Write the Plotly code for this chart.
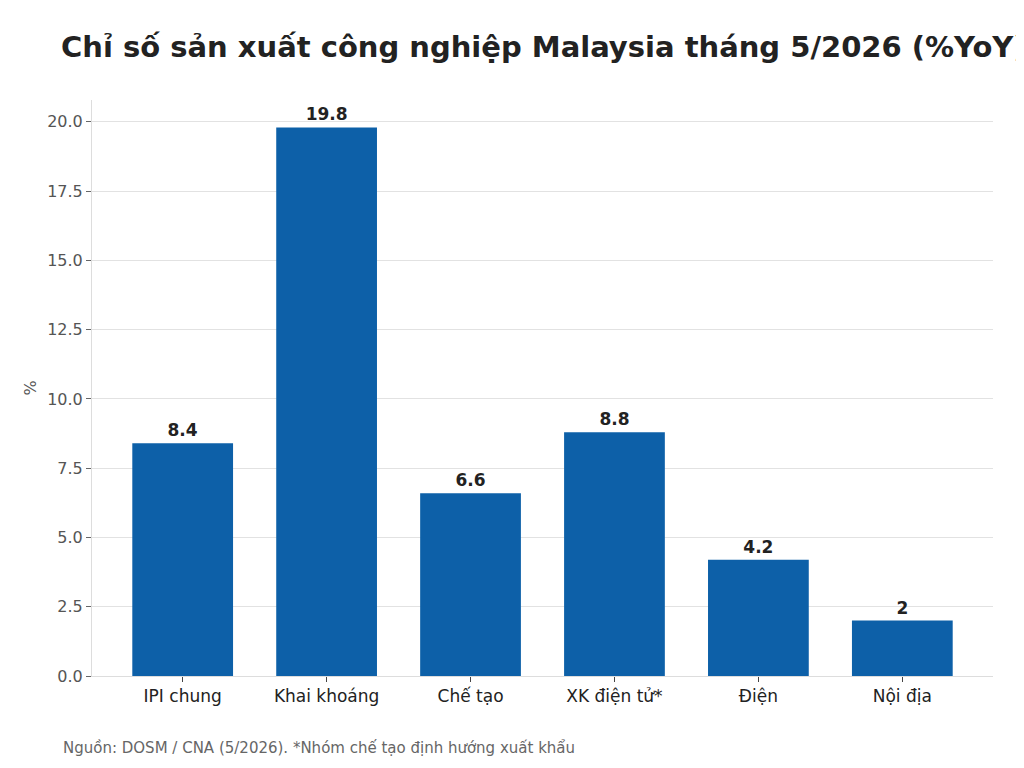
import plotly.graph_objects as go

categories = ["IPI chung", "Khai khoáng", "Chế tạo", "XK điện tử*", "Điện", "Nội địa"]
values = [8.4, 19.8, 6.6, 8.8, 4.2, 2]
value_labels = ["8.4", "19.8", "6.6", "8.8", "4.2", "2"]

TITLE = "Chỉ số sản xuất công nghiệp Malaysia tháng 5/2026 (%YoY)"
SOURCE = "Nguồn: DOSM / CNA (5/2026). *Nhóm chế tạo định hướng xuất khẩu"
FONT = "DejaVu Sans"

fig = go.Figure()
fig.add_trace(go.Bar(
    x=categories,
    y=values,
    width=0.7,
    marker=dict(color="#0d60a8", line=dict(width=0)),
    text=value_labels,
    textposition="outside",
    cliponaxis=False,
    textfont=dict(family=FONT, size=17, color="#222222", weight="bold"),
))

# page adds ~8px body margin, so positions are offset by that
fig.update_layout(
    width=1024,
    height=768,
    paper_bgcolor="white",
    plot_bgcolor="white",
    margin=dict(l=84, r=39, t=92, b=100),
    showlegend=False,
    font=dict(family=FONT),
    title=dict(
        text="<b>" + TITLE + "</b>",
        x=53 / 1024, xanchor="left",
        y=1 - 39 / 768, yanchor="middle",
        font=dict(family=FONT, size=29, color="#222222"),
    ),
    annotations=[dict(
        text=SOURCE, xref="paper", yref="paper",
        x=-31 / 901, y=-72 / 576, xanchor="left", yanchor="middle",
        showarrow=False, font=dict(family=FONT, size=15, color="#666666"),
    )],
)

fig.update_xaxes(
    range=[-0.63, 5.63],
    showline=True, linecolor="#dddddd", linewidth=1,
    ticks="outside", ticklen=5, tickcolor="#444444",
    tickfont=dict(family=FONT, size=17, color="#222222"),
    showgrid=False,
)
fig.update_yaxes(
    range=[0, 20.79],
    dtick=2.5, tickformat=".1f",
    showline=True, linecolor="#dddddd", linewidth=1,
    ticks="outside", ticklen=5, tickcolor="#666666",
    tickfont=dict(family=FONT, size=16, color="#555555"),
    gridcolor="#e2e2e2", gridwidth=1,
    zeroline=False,
    title=dict(text="%", font=dict(family=FONT, size=16, color="#555555"), standoff=6),
)

fig.write_html("out.html")
